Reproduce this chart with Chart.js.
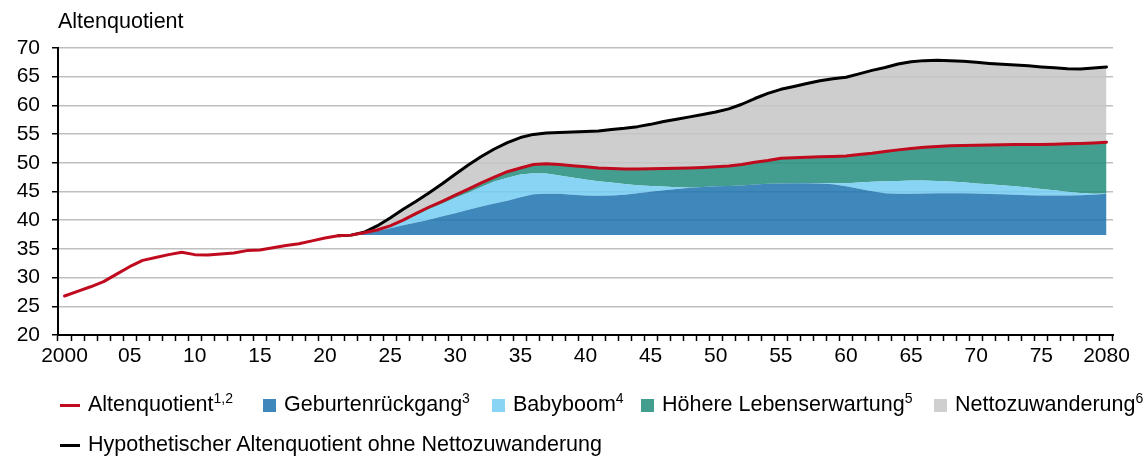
<!DOCTYPE html>
<html>
<head>
<meta charset="utf-8">
<script src="https://cdn.jsdelivr.net/npm/chart.js@4"></script>
<style>
  html, body { margin: 0; padding: 0; background: #fff; }
  #wrap { position: relative; width: 1147px; height: 457px; font-family: 'Liberation Sans', Arial, sans-serif; color: #000; }
  #c { position: absolute; left: 0; top: 0; }
  #title { position: absolute; left: 58px; top: 8px; font-size: 21.5px; line-height: 26px; white-space: nowrap; }
  .item { position: absolute; font-size: 21.5px; line-height: 26px; white-space: nowrap; }
  .item sup { font-size: 14px; vertical-align: 8px; line-height: 0; }
  .sym { position: absolute; }
</style>
</head>
<body>
<div id="wrap">
  <canvas id="c" width="1147" height="457"></canvas>
  <div id="title">Altenquotient</div>
  <div id="legend"></div>
</div>
<script>
// ---- categories ----
const years = [2000,2001,2002,2003,2004,2005,2006,2007,2008,2009,
  2010,2011,2012,2013,2014,2015,2016,2017,2018,2019,
  2020,2021,2022,2023,2024,2025,2026,2027,2028,2029,
  2030,2031,2032,2033,2034,2035,2036,2037,2038,2039,
  2040,2041,2042,2043,2044,2045,2046,2047,2048,2049,
  2050,2051,2052,2053,2054,2055,2056,2057,2058,2059,
  2060,2061,2062,2063,2064,2065,2066,2067,2068,2069,
  2070,2071,2072,2073,2074,2075,2076,2077,2078,2079,2080];

// ---- tick labels ----
const tickLabelYears = [2000,2005,2010,2015,2020,2025,2030,2035,2040,2045,2050,2055,2060,2065,2070,2075,2080];
const tickLabelTexts = ['2000','05','10','15','20','25','30','35','40','45','50','55','60','65','70','75','2080'];
const yTicks = [20,25,30,35,40,45,50,55,60,65,70];

// ---- series: Altenquotient (red line), 2000-2080 ----
const altenquotient = [26.8,27.6,28.4,29.3,30.6,31.9,33.0,33.5,34.0,34.4,
  34.0,33.95,34.1,34.3,34.7,34.8,35.2,35.6,35.9,36.4,
  36.9,37.3,37.4,37.8,38.3,39.0,40.0,41.2,42.3,43.3,
  44.35,45.4,46.5,47.5,48.45,49.1,49.7,49.85,49.7,49.5,
  49.3,49.1,49.0,48.9,48.9,48.95,49.0,49.05,49.1,49.2,
  49.3,49.45,49.7,50.1,50.4,50.8,50.9,50.95,51.05,51.1,
  51.2,51.45,51.65,51.95,52.25,52.5,52.7,52.85,52.95,53.0,
  53.05,53.1,53.15,53.2,53.2,53.2,53.25,53.3,53.35,53.45,53.6];

// ---- Hypothetischer Altenquotient ohne Nettozuwanderung (black line), from 2021 ----
const ohneZuwanderung = [null,null,null,null,null,null,null,null,null,null,
  null,null,null,null,null,null,null,null,null,null,
  null,37.3,37.4,37.9,39.0,40.4,41.9,43.3,44.8,46.35,
  48.0,49.6,51.1,52.4,53.5,54.4,54.95,55.2,55.3,55.35,
  55.45,55.55,55.8,56.0,56.3,56.7,57.2,57.6,58.0,58.4,
  58.85,59.4,60.2,61.2,62.1,62.8,63.3,63.8,64.3,64.65,
  64.9,65.5,66.1,66.6,67.2,67.6,67.8,67.85,67.8,67.7,
  67.5,67.3,67.15,67.05,66.9,66.7,66.55,66.4,66.35,66.5,66.7];

// ---- stacked decomposition (upper edge of each band), from 2022 ----
const basisNiveau = 37.4; // Ausgangsniveau 2022
const geburtenrueckgangOben = [null,null,null,null,null,null,null,null,null,null,
  null,null,null,null,null,null,null,null,null,null,
  null,null,37.4,37.6,38.1,38.6,39.1,39.6,40.1,40.7,
  41.2,41.8,42.4,42.9,43.4,44.0,44.5,44.6,44.6,44.45,
  44.3,44.25,44.3,44.45,44.7,44.95,45.2,45.45,45.65,45.8,
  45.9,45.95,46.05,46.2,46.35,46.4,46.45,46.45,46.4,46.25,
  45.9,45.5,45.05,44.7,44.6,44.6,44.65,44.7,44.7,44.7,
  44.65,44.55,44.5,44.45,44.35,44.3,44.3,44.3,44.35,44.45,44.6];
const babyboomOben = [null,null,null,null,null,null,null,null,null,null,
  null,null,null,null,null,null,null,null,null,null,
  null,null,37.4,37.7,38.15,38.9,39.8,40.8,41.9,42.85,
  43.85,44.8,45.8,46.75,47.4,47.95,48.2,48.15,47.8,47.45,
  47.1,46.8,46.55,46.3,46.1,45.95,45.85,45.75,45.7,45.8,
  45.9,45.95,46.05,46.2,46.35,46.4,46.45,46.5,46.5,46.45,
  46.45,46.55,46.7,46.8,46.85,46.9,46.9,46.85,46.75,46.6,
  46.4,46.25,46.1,45.9,45.7,45.45,45.2,44.95,44.75,44.6,44.65];
// Höhere Lebenserwartung reaches up to the Altenquotient line,
// Nettozuwanderung up to the hypothetical line (both from 2022)
const startIndex = 22;

// ---- colours ----
const FONT = "'Liberation Sans', Arial, sans-serif";
const RED = '#C00A1E';
const colBlue = '#3F88BC', colLight = '#87D4F5', colTeal = '#439E8F', colGray = '#CFCFCF';

const fromStart = arr => arr.map((v, i) => i >= startIndex ? v : null);

const ctx = document.getElementById('c').getContext('2d');
new Chart(ctx, {
  type: 'line',
  data: {
    labels: years,
    datasets: [
      { label: 'Altenquotient', data: altenquotient, borderColor: RED, borderWidth: 3,
        pointRadius: 0, fill: false, borderJoinStyle: 'round', borderCapStyle: 'round' },
      { label: 'Hypothetischer Altenquotient ohne Nettozuwanderung', data: ohneZuwanderung, borderColor: '#000',
        borderWidth: 3, pointRadius: 0, fill: false, borderJoinStyle: 'round', borderCapStyle: 'round' },
      { label: 'Geburtenrückgang', data: geburtenrueckgangOben, borderColor: 'rgba(0,0,0,0)', borderWidth: 0,
        pointRadius: 0, backgroundColor: 'rgba(29,115,176,0.85)', fill: { value: basisNiveau } },
      { label: 'Babyboom', data: babyboomOben, borderColor: 'rgba(0,0,0,0)', borderWidth: 0,
        pointRadius: 0, backgroundColor: 'rgba(114,204,243,0.85)', fill: 2 },
      { label: 'Höhere Lebenserwartung', data: fromStart(altenquotient), borderColor: 'rgba(0,0,0,0)', borderWidth: 0,
        pointRadius: 0, backgroundColor: 'rgba(34,141,123,0.85)', fill: 3 },
      { label: 'Nettozuwanderung', data: fromStart(ohneZuwanderung), borderColor: 'rgba(0,0,0,0)', borderWidth: 0,
        pointRadius: 0, backgroundColor: 'rgba(198,198,198,0.85)', fill: 4 }
    ]
  },
  options: {
    responsive: false,
    animation: false,
    devicePixelRatio: 1,
    layout: { padding: { left: 0, right: 34, top: 48, bottom: 82 } },
    plugins: { legend: { display: false }, tooltip: { enabled: false }, title: { display: false } },
    scales: {
      x: {
        type: 'category',
        offset: true,
        grid: { offset: true, drawOnChartArea: false, drawTicks: true, tickLength: 6, tickColor: '#000', tickWidth: 1.5 },
        border: { color: '#000', width: 2 },
        ticks: {
          autoSkip: false, maxRotation: 0, minRotation: 0, padding: 3, color: '#000',
          font: { family: FONT, size: 21 },
          callback: function(value, index) {
            const k = tickLabelYears.indexOf(years[index]);
            return k >= 0 ? tickLabelTexts[k] : '';
          }
        },
        afterFit: s => { s.height = 40; }
      },
      y: {
        min: yTicks[0], max: yTicks[yTicks.length - 1],
        afterBuildTicks: s => { s.ticks = yTicks.map(v => ({ value: v })); },
        ticks: { padding: 12, color: '#000', font: { family: FONT, size: 21 } },
        grid: { color: '#BFBFBF', lineWidth: 1.5, tickColor: '#000', tickLength: 6, tickWidth: 1.5 },
        border: { color: '#000', width: 2 },
        afterFit: s => { s.width = 58; }
      }
    }
  }
});

// ---- HTML legend ----
const legendItems = [
  { text: 'Altenquotient', sup: '1,2', type: 'line', color: RED, x: 60, row: 0 },
  { text: 'Geburtenrückgang', sup: '3', type: 'box', color: colBlue, x: 263, row: 0 },
  { text: 'Babyboom', sup: '4', type: 'box', color: colLight, x: 492, row: 0 },
  { text: 'Höhere Lebenserwartung', sup: '5', type: 'box', color: colTeal, x: 641, row: 0 },
  { text: 'Nettozuwanderung', sup: '6', type: 'box', color: colGray, x: 934, row: 0 },
  { text: 'Hypothetischer Altenquotient ohne Nettozuwanderung', sup: '', type: 'line', color: '#000', x: 60, row: 1 }
];
const rowCenters = [405, 445];
const leg = document.getElementById('legend');
legendItems.forEach(it => {
  const cy = rowCenters[it.row];
  const sym = document.createElement('div');
  sym.className = 'sym';
  if (it.type === 'line') {
    sym.style.cssText = `left:${it.x}px;top:${cy - 1.5}px;width:20px;height:3px;background:${it.color};`;
  } else {
    sym.style.cssText = `left:${it.x}px;top:${cy - 6}px;width:13px;height:13px;background:${it.color};`;
  }
  leg.appendChild(sym);
  const t = document.createElement('div');
  t.className = 'item';
  t.style.left = (it.x + (it.type === 'line' ? 28 : 21)) + 'px';
  t.style.top = (cy - 14) + 'px';
  t.innerHTML = it.text + (it.sup ? '<sup>' + it.sup + '</sup>' : '');
  leg.appendChild(t);
});
</script>
</body>
</html>
